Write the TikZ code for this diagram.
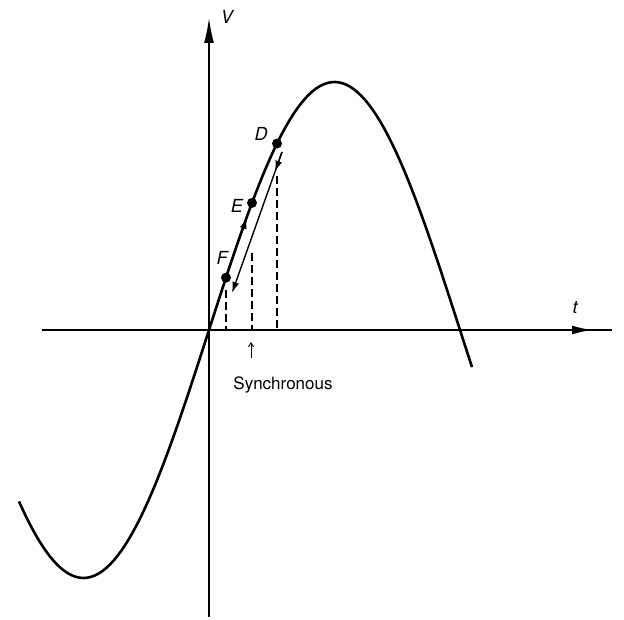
\documentclass[tikz,border=0pt]{standalone}
\usepackage{fontspec}
\setmainfont{TeX Gyre Heros}
\usetikzlibrary{arrows.meta,calc}

\tikzset{
  axis/.style={line width=1.6pt},
  curve/.style={line width=2.6pt},
  swing/.style={line width=1.4pt},
  drop/.style={line width=1.4pt, dash pattern=on 8pt off 4pt},
  lbl/.style={font=\fontsize{18}{21}\selectfont\itshape, inner sep=0pt},
  dot/.style={circle, fill=black, inner sep=0pt, minimum size=10pt}
}

\begin{document}
\begin{tikzpicture}[x=1pt,y=1pt]
\useasboundingbox (-209,-290) rectangle (415,330);
% axes
\coordinate (O) at (0,0);
\coordinate (vbot) at (0,-287);
\coordinate (vtop) at (0,312);
\coordinate (hleft) at (-167,0);
\coordinate (htip) at (383,0);
\coordinate (hright) at (403,0);
\draw[axis, -{Latex[length=25pt,width=10pt]}] (vbot) -- (vtop);
\draw[axis] (hleft) -- (hright);
\draw[axis, -{Latex[length=20pt,width=9pt]}] (hleft) -- (htip);
\node[lbl] (V) at (18,313) {V};
\node[lbl] (t) at (366,22) {t};
% power angle curve
\draw[curve] plot[domain=-190:263, samples=120] (\x, {248*sin(0.71713*\x)});
% operating points
\coordinate (D) at (68,{248*sin(0.71713*68)});
\coordinate (E) at (43,{248*sin(0.71713*43)});
\coordinate (F) at (17,{248*sin(0.71713*17)});
\node[dot] (Ddot) at (D) {};
\node[dot] (Edot) at (E) {};
\node[dot] (Fdot) at (F) {};
\node[lbl] (Dlbl) at ($(D)+(-16,10)$) {D};
\node[lbl] (Elbl) at ($(E)+(-15,-3)$) {E};
\node[lbl] (Flbl) at ($(F)+(-4,20)$) {F};
% swing up at E
\draw[swing, -{Latex[length=11pt,width=7pt]}] ($(F)!0.5!(E)$) -- ($(F)!0.8!(E)$);
% swing back down
\coordinate (s1) at (73,178);
\coordinate (s2) at (23,37);
\draw[swing, -{Latex[length=11pt,width=7pt]}] (s1) -- (s2);
\draw[swing, -{Latex[length=11pt,width=7pt]}] (s1) -- ($(s1)!0.14!(s2)$);
% drop lines
\draw[drop] ($(F)+(0,-12)$) -- (F |- O);
\draw[drop] ($(E)+(0,-50)$) -- (E |- O);
\draw[drop] ($(D)+(0,-32)$) -- (D |- O);
% synchronous marker
\coordinate (m1) at (42,-28);
\coordinate (m2) at (42,-12);
\draw[line width=0.9pt, -{Straight Barb[length=4pt,width=5pt]}] (m1) -- (m2);
\node[font=\fontsize{17}{20}\selectfont, inner sep=0pt] (sync) at (74,-55) {Synchronous};
\end{tikzpicture}
\end{document}
